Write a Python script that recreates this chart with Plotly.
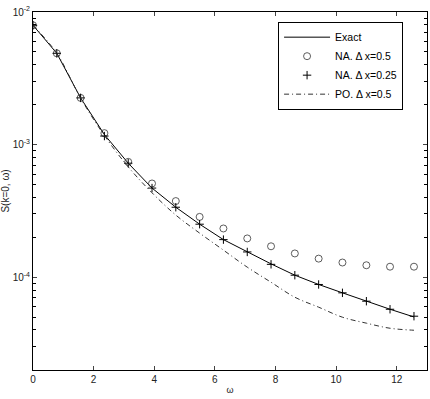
import plotly.graph_objects as go

# omega sampled at k*pi/4
omega = [0.0, 0.785, 1.571, 2.356, 3.142, 3.927, 4.712, 5.498, 6.283,
         7.069, 7.854, 8.639, 9.425, 10.21, 11.0, 11.78, 12.57]

exact = [7.94e-3, 4.88e-3, 2.25e-3, 1.19e-3, 7.24e-4, 4.70e-4, 3.37e-4, 2.51e-4, 1.92e-4,
         1.55e-4, 1.26e-4, 1.035e-4, 8.81e-5, 7.62e-5, 6.59e-5, 5.73e-5, 5.01e-5]
na_05 = [7.94e-3, 4.88e-3, 2.25e-3, 1.22e-3, 7.41e-4, 5.09e-4, 3.75e-4, 2.85e-4, 2.33e-4,
         1.96e-4, 1.71e-4, 1.51e-4, 1.38e-4, 1.29e-4, 1.23e-4, 1.20e-4, 1.20e-4]
na_025 = [7.94e-3, 4.88e-3, 2.25e-3, 1.16e-3, 7.24e-4, 4.70e-4, 3.37e-4, 2.51e-4, 1.92e-4,
          1.55e-4, 1.25e-4, 1.035e-4, 8.81e-5, 7.62e-5, 6.59e-5, 5.73e-5, 5.08e-5]
po_05 = [7.94e-3, 4.88e-3, 2.24e-3, 1.17e-3, 6.79e-4, 4.33e-4, 2.94e-4, 2.15e-4, 1.60e-4,
         1.19e-4, 9.16e-5, 7.06e-5, 5.94e-5, 4.99e-5, 4.50e-5, 4.12e-5, 3.98e-5]

xticks = [0, 2, 4, 6, 8, 10, 12]
yticks = [1e-4, 1e-3, 1e-2]
ytick_text = ["10<sup>-4</sup>", "10<sup>-3</sup>", "10<sup>-2</sup>"]
yminor = [m * d for d in [1e-5, 1e-4, 1e-3] for m in range(2, 10)]

fig = go.Figure()

fig.add_trace(go.Scatter(x=omega, y=exact, mode="lines", name="Exact",
                         line=dict(color="black", width=1)))
fig.add_trace(go.Scatter(x=omega, y=na_05, mode="markers", name="NA. Δ x=0.5",
                         marker=dict(symbol="circle-open", size=7,
                                     color="#333", line=dict(width=0.8))))
fig.add_trace(go.Scatter(x=omega, y=na_025, mode="markers", name="NA. Δ x=0.25",
                         marker=dict(symbol="cross-thin", size=6,
                                     line=dict(color="black", width=1))))
fig.add_trace(go.Scatter(x=omega, y=po_05, mode="lines", name="PO. Δ x=0.5",
                         line=dict(color="#333", width=1, dash="5px,3px,1px,3px",
                                   shape="spline")))

axis_font = dict(family="Liberation Sans, Arial", size=10, color="#222")

fig.update_layout(
    width=430, height=399,
    margin=dict(l=33, r=3, t=12, b=29),
    paper_bgcolor="white", plot_bgcolor="white",
    font=axis_font,
    showlegend=True,
    legend=dict(x=0.622, y=0.973, xanchor="left", yanchor="top",
                bordercolor="black", borderwidth=1, bgcolor="white",
                font=dict(family="Liberation Sans, Arial", size=10.5, color="black"),
                tracegroupgap=0, itemwidth=46),
    xaxis=dict(range=[0, 13], tickvals=xticks, ticks="inside", ticklen=4,
               showline=True, linecolor="black", linewidth=1, mirror="ticks",
               showgrid=False, zeroline=False, automargin=False,
               title=dict(text="ω", font=dict(size=9), standoff=2)),
    yaxis=dict(type="log", range=[-4.7, -2], tickmode="array",
               tickvals=yticks, ticktext=ytick_text,
               ticks="inside", ticklen=4,
               showline=True, linecolor="black", linewidth=1, mirror="allticks",
               showgrid=False, zeroline=False, automargin=False,
               minor=dict(tickmode="array", tickvals=yminor, ticks="inside",
                          ticklen=3, tickcolor="black", showgrid=False),
               title=dict(text="S(k=0, ω)", font=dict(size=10), standoff=2)),
)

# drop the default page margin so the figure sits at the window's corner
fig.write_html("out.html", config={"displayModeBar": False},
               post_script="document.body.style.margin='0';")
